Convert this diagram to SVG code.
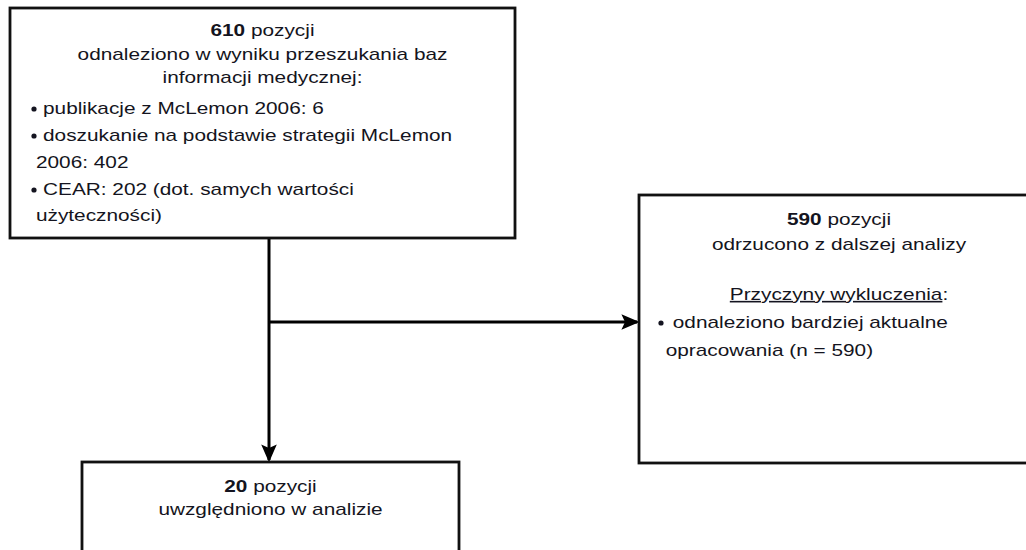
<svg xmlns="http://www.w3.org/2000/svg" width="1026" height="550" viewBox="0 0 1026 550">
  <style>
    .box { fill: #ffffff; stroke: #111111; stroke-width: 2.8; }
    .txt { font-family: "Liberation Sans", Arial, sans-serif; font-size: 16px; fill: #141420; }
    .mid { text-anchor: middle; }
    .b { font-weight: bold; }
    .dot { fill: #141420; }
    .conn { stroke: #000000; stroke-width: 3; fill: none; }
  </style>
  <defs>
    <marker id="arrow" markerWidth="6" markerHeight="6" refX="5.2" refY="3" orient="auto" markerUnits="strokeWidth">
      <path d="M0,0.4 L6,3 L0,5.6 L1.2,3 Z" fill="#000000"/>
    </marker>
  </defs>

  <rect width="1026" height="550" fill="#ffffff"/>

  <!-- connectors -->
  <g id="connectors">
    <line class="conn" x1="269" y1="238" x2="269" y2="460" marker-end="url(#arrow)"/>
    <line class="conn" x1="269" y1="322" x2="637" y2="322" marker-end="url(#arrow)"/>
  </g>

  <!-- search results: text is set in a horizontally widened face -->
  <g id="node-search">
    <rect class="box" x="10" y="8" width="505" height="230"/>
    <g class="txt" transform="translate(262.5,0) scale(1.3,1)">
      <text class="mid" x="0" y="36"><tspan class="b">610</tspan> pozycji</text>
      <text class="mid" x="0" y="60">odnaleziono w wyniku przeszukania baz</text>
      <text class="mid" x="0" y="83">informacji medycznej:</text>
    </g>
    <circle class="dot" cx="34" cy="109" r="2.6"/>
    <circle class="dot" cx="34" cy="136" r="2.6"/>
    <circle class="dot" cx="34" cy="190" r="2.6"/>
    <g class="txt" transform="translate(10,0) scale(1.3,1)">
      <text x="25.4" y="114">publikacje z McLemon 2006: 6</text>
      <text x="25.4" y="141">doszukanie na podstawie strategii McLemon</text>
      <text x="20" y="168">2006: 402</text>
      <text x="25.4" y="195">CEAR: 202 (dot. samych wartości</text>
      <text x="20" y="221">użyteczności)</text>
    </g>
  </g>

  <!-- excluded records -->
  <g id="node-excluded">
    <rect class="box" x="639" y="195" width="400" height="268"/>
    <g class="txt" transform="translate(839,0) scale(1.3,1)">
      <text class="mid" x="0" y="225"><tspan class="b">590</tspan> pozycji</text>
      <text class="mid" x="0" y="250">odrzucono z dalszej analizy</text>
      <text class="mid" x="0" y="300"><tspan text-decoration="underline">Przyczyny wykluczenia</tspan>:</text>
    </g>
    <circle class="dot" cx="661" cy="323" r="2.6"/>
    <g class="txt" transform="translate(639,0) scale(1.3,1)">
      <text x="26" y="328">odnaleziono bardziej aktualne</text>
      <text x="20.5" y="356">opracowania (n = 590)</text>
    </g>
  </g>

  <!-- included records -->
  <g id="node-included">
    <rect class="box" x="82" y="462" width="377" height="110"/>
    <g class="txt" transform="translate(270.5,0) scale(1.3,1)">
      <text class="mid" x="0" y="492"><tspan class="b">20</tspan> pozycji</text>
      <text class="mid" x="0" y="515">uwzględniono w analizie</text>
    </g>
  </g>
</svg>
